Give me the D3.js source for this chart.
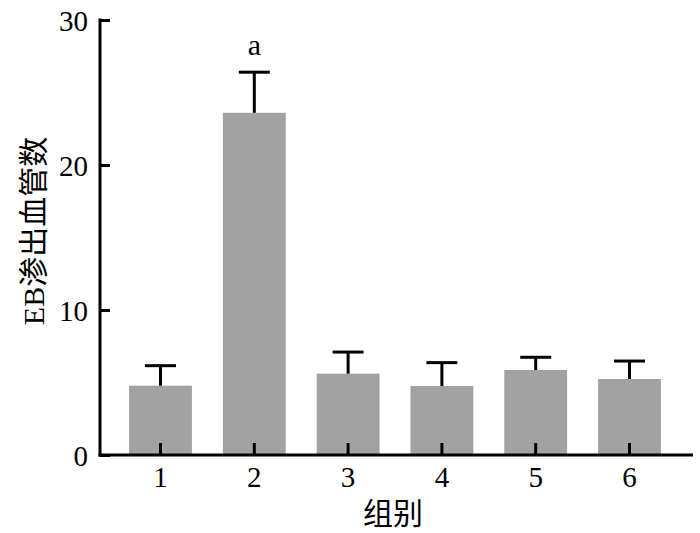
<!DOCTYPE html>
<html><head><meta charset="utf-8">
<script src="https://cdn.jsdelivr.net/npm/d3@7"></script>
<style>body{margin:0;background:#fff}</style>
</head><body>
<svg id="chart" width="700" height="533"></svg>
<script>
const categories = ["1","2","3","4","5","6"];
const means = [4.78, 23.6, 5.61, 4.76, 5.86, 5.24];
const errors = [1.38, 2.8, 1.49, 1.61, 0.88, 1.24];
const yTicks = [0, 10, 20, 30];
const sigLabels = ["", "a", "", "", "", ""];

const svg = d3.select("#chart");
const serif = "'Liberation Serif','Times New Roman',serif";
const cjk = "'Liberation Serif','Noto Sans CJK SC',serif";

const x = d3.scaleBand().domain(categories).range([100, 690]).paddingInner(0.33).paddingOuter(0.31);
const y = d3.scaleLinear().domain([0, 30]).range([455, 20]);

// bars
svg.selectAll("rect.bar").data(categories).enter().append("rect")
  .attr("class","bar")
  .attr("x", d => x(d)).attr("width", x.bandwidth())
  .attr("y", (d,i) => y(means[i])).attr("height", (d,i) => y(0) - y(means[i]))
  .attr("fill", "#a2a2a2");

// error bars
const eb = svg.append("g").attr("stroke","#000").attr("stroke-width",3);
categories.forEach((d,i) => {
  const cx = x(d) + x.bandwidth()/2;
  eb.append("line").attr("x1",cx).attr("x2",cx).attr("y1",y(means[i])).attr("y2",y(means[i]+errors[i]));
  eb.append("line").attr("x1",cx-15.5).attr("x2",cx+15.5).attr("y1",y(means[i]+errors[i])).attr("y2",y(means[i]+errors[i]));
  if (sigLabels[i]) {
    svg.append("text").attr("x",cx).attr("y",y(means[i]+errors[i]) - 17)
      .attr("text-anchor","middle").attr("font-family",serif).attr("font-size",30).text(sigLabels[i]);
  }
});

// y axis
const yAxis = svg.append("g").attr("transform","translate(100,0)")
  .call(d3.axisLeft(y).tickValues(yTicks).tickSize(-10).tickPadding(12).tickFormat(d3.format("d")));
yAxis.select(".domain").remove();
yAxis.selectAll(".tick line").attr("stroke","#000").attr("stroke-width",3);
yAxis.selectAll("text").attr("font-family",serif).attr("font-size",29).attr("fill","#000").attr("dy","0.35em");
svg.append("line").attr("x1",100).attr("x2",100).attr("y1",y(30)-1.5).attr("y2",y(0)+1.5).attr("stroke","#000").attr("stroke-width",3);

// x axis
const xAxis = svg.append("g").attr("transform","translate(0,455)")
  .call(d3.axisBottom(x).tickSize(-12).tickPadding(11));
xAxis.select(".domain").remove();
xAxis.selectAll(".tick line").attr("stroke","#000").attr("stroke-width",3);
xAxis.selectAll("text").attr("font-family",serif).attr("font-size",29).attr("fill","#000");
svg.append("line").attr("x1",98.5).attr("x2",693).attr("y1",455).attr("y2",455).attr("stroke","#000").attr("stroke-width",3);

// axis titles
svg.append("text").attr("x",393).attr("y",524).attr("text-anchor","middle")
  .attr("font-family",cjk).attr("font-size",30).attr("fill","#000").text("组别");
svg.append("text").attr("transform","translate(44,231) rotate(-90)").attr("text-anchor","middle")
  .attr("font-family",cjk).attr("font-size",30).attr("fill","#000").text("EB渗出血管数");
</script>
</body></html>
